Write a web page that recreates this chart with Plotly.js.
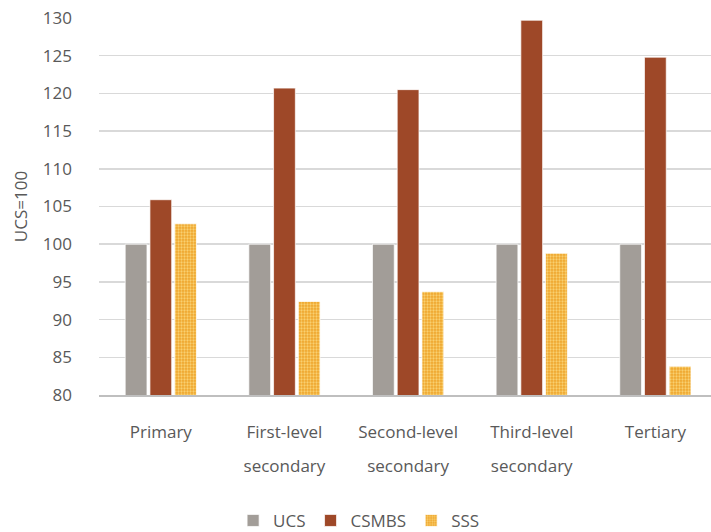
<!DOCTYPE html>
<html>
<head>
<meta charset="utf-8">
<script src="https://cdn.plot.ly/plotly-3.0.1.min.js"></script>
<style>html,body{margin:0;padding:0;background:#fff;}#chart{width:711px;height:532px;}</style>
</head>
<body>
<div id="chart"></div>
<script>
var categories = ["Primary", "First-level secondary", "Second-level secondary", "Third-level secondary", "Tertiary"];
var line1 = ["Primary", "First-level", "Second-level", "Third-level", "Tertiary"];
var line2 = ["", "secondary", "secondary", "secondary", ""];
var ucs = [100, 100, 100, 100, 100];
var csmbs = [105.9, 120.7, 120.5, 129.7, 124.8];
var sss = [102.7, 92.4, 93.7, 98.8, 83.8];
var yTicks = [80, 85, 90, 95, 100, 105, 110, 115, 120, 125, 130];

var font = {family: "Open Sans, Noto Sans, sans-serif", size: 17, color: "#595959"};
var outline = {color: "rgba(255,255,255,0.7)", width: 1};

var traces = [
  {type: "bar", name: "UCS", x: categories, y: ucs, marker: {color: "#A29D98", line: outline}},
  {type: "bar", name: "CSMBS", x: categories, y: csmbs, marker: {color: "#9E4828", line: outline}},
  {type: "bar", name: "SSS", x: categories, y: sss,
   marker: {color: "#EFA930", line: outline,
     pattern: {shape: ".", bgcolor: "#EFA62C", fgcolor: "#F9D070", size: 3, solidity: 0.45}}}
];

var layout = {
  width: 711, height: 532,
  margin: {l: 99, r: 0, t: 18, b: 137, autoexpand: false},
  paper_bgcolor: "#fff", plot_bgcolor: "#fff",
  font: font,
  barmode: "group", bargap: 0.4, bargroupgap: 0.12,
  showlegend: true,
  legend: {orientation: "h", x: 0.425, xanchor: "center", y: -0.334, yanchor: "middle",
           font: font, itemwidth: 30, traceorder: "normal"},
  xaxis: {type: "category", range: [-0.5, 4.45], tickvals: categories, ticktext: line1,
          showgrid: false, showline: true, linecolor: "#BFBFBF", linewidth: 1.5,
          ticks: "", ticklabelstandoff: 21, tickfont: font, zeroline: false},
  xaxis2: {overlaying: "x", anchor: "y", side: "bottom", type: "linear", range: [-0.5, 4.45],
           tickvals: [0, 1, 2, 3, 4], ticktext: line2, showgrid: false, showline: false,
           ticks: "", ticklabelstandoff: 59, tickfont: font, zeroline: false},
  yaxis: {range: [80, 130], tickvals: yTicks, showgrid: true, gridcolor: "#D9D9D9", gridwidth: 1.5,
          zeroline: false, showline: false, ticks: "", ticklabelstandoff: 26, tickfont: font,
          title: {text: "UCS=100", font: font, standoff: 10}}
};

traces.push({type: "scatter", x: [0], y: [80], xaxis: "x2", mode: "none", showlegend: false, hoverinfo: "skip"});

Plotly.newPlot("chart", traces, layout, {displayModeBar: false, staticPlot: true});
</script>
</body>
</html>
